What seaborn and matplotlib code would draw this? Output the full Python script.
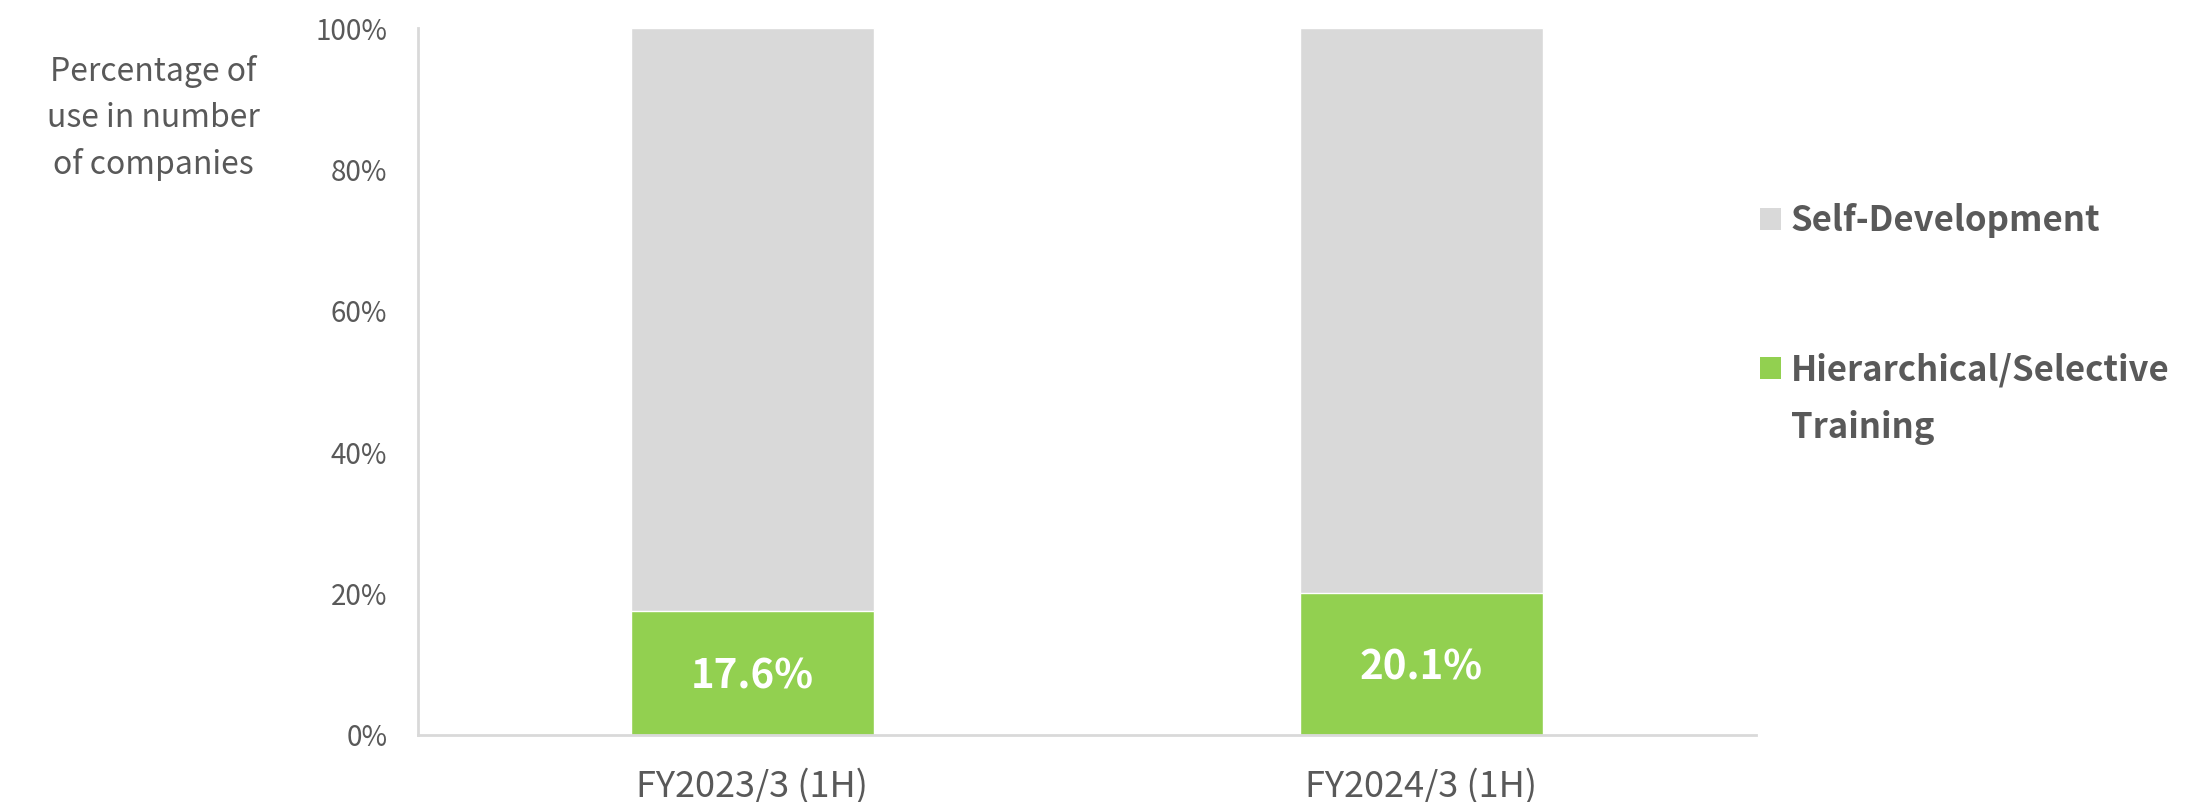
import pandas as pd
import seaborn as sns
import matplotlib.pyplot as plt
from matplotlib.patches import Patch

# chart values
periods = ["FY2023/3 (1H)", "FY2024/3 (1H)"]
hierarchical = [17.6, 20.1]
self_development = [82.4, 79.9]
y_ticks = [0, 20, 40, 60, 80, 100]
legend_labels = ["Self-Development", "Hierarchical/Selective", "Training"]

GREEN = "#92D050"
GREY = "#D9D9D9"
TEXT = "#595959"

df = pd.DataFrame({
    "period": periods,
    "hierarchical": hierarchical,
    "total": [h + s for h, s in zip(hierarchical, self_development)],
})

sns.set_theme(style="white")
plt.rcParams['font.family'] = ['Noto Sans CJK JP', 'DejaVu Sans']

fig = plt.figure(figsize=(21.85, 8.02), dpi=100)
ax = fig.add_axes([418 / 2185, 1 - 735 / 802, (1756 - 418) / 2185, (735 - 28) / 802])

# stacked bars: full height in grey, green share drawn over it
sns.barplot(data=df, x="period", y="total", color=GREY, width=0.363,
            saturation=1, ax=ax)
sns.barplot(data=df, x="period", y="hierarchical", color=GREEN, width=0.363,
            saturation=1, ax=ax)

for i, v in enumerate(hierarchical):
    ax.text(i, v / 2 - 0.6, f"{v:.1f}%", ha="center", va="center", color="white",
            fontsize=29, fontweight="bold")

ax.set_xlim(-0.5, 1.5)
ax.set_ylim(0, 100)
ax.set_yticks(y_ticks)
ax.set_yticklabels([f"{t}%" for t in y_ticks])
ax.tick_params(axis="y", labelsize=20, colors=TEXT, length=0, pad=22)
ax.tick_params(axis="x", labelsize=26, colors=TEXT, length=0, pad=24)
ax.set_xlabel("")
ax.set_ylabel("")

for side in ["top", "right"]:
    ax.spines[side].set_visible(False)
for side in ["left", "bottom"]:
    ax.spines[side].set_color(GREY)
    ax.spines[side].set_linewidth(2)

fig.text(153 / 2185, 1 - 118 / 802, "Percentage of\nuse in number\nof companies",
         ha="center", va="center", fontsize=23, color=TEXT, linespacing=1.55)

handles = [Patch(facecolor=GREY, edgecolor="none"),
           Patch(facecolor=GREEN, edgecolor="none")]
leg = fig.legend(handles, legend_labels[:2],
                 loc="upper left", bbox_to_anchor=(1760 / 2185, 1 - 203 / 802),
                 frameon=False, borderpad=0, borderaxespad=0,
                 handlelength=0.6, handleheight=0.6,
                 handletextpad=0.28, labelspacing=3.3,
                 prop={"size": 25, "weight": "bold"})
for t in leg.get_texts():
    t.set_color(TEXT)

# second line of the green entry, left-aligned with its label
fig.canvas.draw()
bb = leg.get_texts()[1].get_window_extent()
fig.text(bb.x0 / fig.bbox.width, (bb.y0 - 40) / fig.bbox.height, legend_labels[2],
         ha="left", va="center", fontsize=25, fontweight="bold", color=TEXT)

fig.savefig("out.png", dpi=100)
